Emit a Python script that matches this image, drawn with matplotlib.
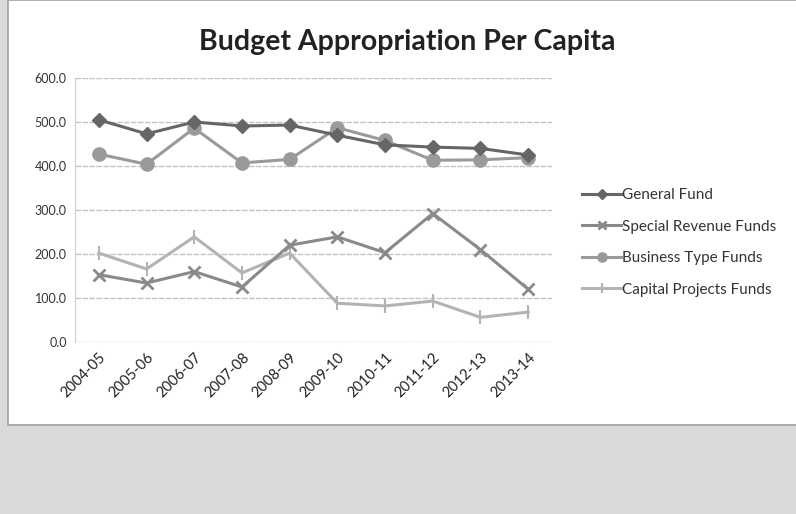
import matplotlib.pyplot as plt
from matplotlib.patches import Rectangle

# Daten
years = ["2004-05", "2005-06", "2006-07", "2007-08", "2008-09",
         "2009-10", "2010-11", "2011-12", "2012-13", "2013-14"]
general_fund = [505, 473, 500, 491, 493, 470, 448, 443, 440, 425]
special_revenue = [153, 134, 160, 125, 220, 239, 203, 292, 210, 120]
business_type = [427, 404, 486, 407, 415, 487, 458, 413, 414, 419]
capital_projects = [202, 166, 239, 157, 202, 88, 82, 93, 56, 68]

yticks = [0, 100, 200, 300, 400, 500, 600]

plt.rcParams['font.family'] = ['Lato', 'DejaVu Sans']

fig = plt.figure(figsize=(7.96, 5.14), dpi=100)
fig.patch.set_facecolor("#d9d9d9")

# weisser Diagrammrahmen
fig.patches.append(Rectangle((8 / 796, 1 - 425 / 514), 1.0, 425 / 514,
                             transform=fig.transFigure, facecolor="white",
                             edgecolor="#a0a0a0", linewidth=1.2, zorder=-5))

ax = fig.add_axes([75 / 796, 1 - 342 / 514, 477 / 796, 264 / 514])
ax.set_facecolor("none")

x = list(range(len(years)))
ax.plot(x, general_fund, color="#666666", lw=2.2, marker="D", ms=7,
        label="General Fund", zorder=4)
ax.plot(x, special_revenue, color="#8a8a8a", lw=2.2, marker="x", ms=9, mew=2,
        label="Special Revenue Funds", zorder=3)
ax.plot(x, business_type, color="#9a9a9a", lw=2.2, marker="o", ms=9.5,
        label="Business Type Funds", zorder=3)
ax.plot(x, capital_projects, color="#b3b3b3", lw=2.2, marker="|", ms=10, mew=1.5,
        label="Capital Projects Funds", zorder=2)

ax.set_xlim(-0.5, len(years) - 0.5)
ax.set_ylim(0, 600)
ax.set_yticks(yticks)
ax.set_yticklabels([f"{v:.1f}" for v in yticks], fontsize=9, color="#333333")
ax.set_xticks(x)
ax.set_xticklabels(years, rotation=45, ha="right", rotation_mode="anchor",
                   fontsize=10.5, color="#222222")
ax.tick_params(length=0, pad=6)
ax.grid(axis="y", color="#c4c4c4", lw=1, ls=(0, (4, 1)))
for s in ["top", "right", "bottom"]:
    ax.spines[s].set_visible(False)
ax.spines["left"].set_color("#d0d0d0")

fig.text(407 / 796, 1 - 42 / 514, "Budget Appropriation Per Capita",
         ha="center", va="center", fontsize=20.5, fontweight="bold", color="#222222")

leg = ax.legend(loc="center left", bbox_to_anchor=(1.035, 0.377), frameon=False,
                fontsize=11, handlelength=2.5, handletextpad=0.1, labelspacing=1.15,
                labelcolor="#333333", markerscale=0.7)

fig.savefig("out.png", dpi=100)
